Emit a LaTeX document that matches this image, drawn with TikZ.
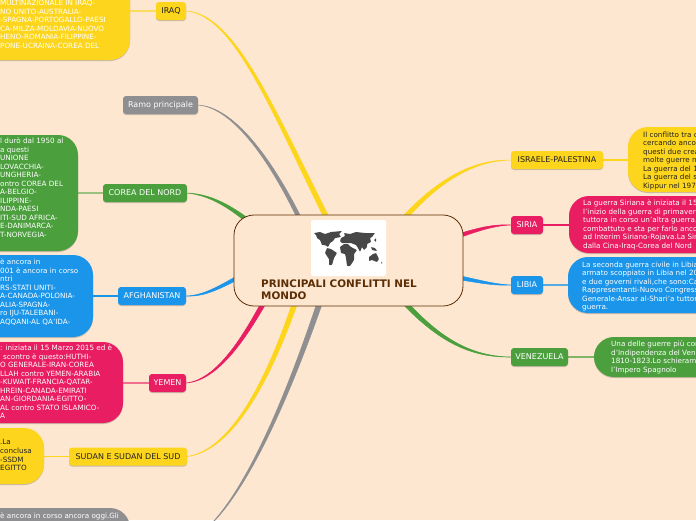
\documentclass[tikz,border=0pt]{standalone}
\usepackage{fontspec}
\setmainfont{DejaVu Sans}
\usetikzlibrary{calc,shadows,backgrounds}
\definecolor{pagebg}{HTML}{FEE7D0}
\definecolor{cy}{HTML}{FDD51C}
\definecolor{cg}{HTML}{4B9F3D}
\definecolor{cb}{HTML}{1B95E9}
\definecolor{cp}{HTML}{E91D62}
\definecolor{cn}{HTML}{8F8F92}
\definecolor{cbrown}{HTML}{5B2E05}
\definecolor{ctext}{HTML}{222222}
\tikzset{
  softshadow/.style={drop shadow={shadow xshift=0pt,shadow yshift=-1pt,opacity=.35,fill=black!60}},
  lab/.style={rectangle,rounded corners=3pt,inner sep=0pt,softshadow,font=\fontsize{8}{9.5}\selectfont},
  boxx/.style={rectangle,rounded corners=20pt,inner sep=0pt,softshadow},
  boxtext/.style={anchor=north west,inner sep=0pt,align=left,font=\fontsize{7.2}{8.55}\selectfont},
  leaf/.style={line width=1.2pt},
}
\newcommand{\branch}[7]{% colour, label anchor, c1, c2, end offset from centre, normal, unused
  \filldraw[#1,line width=.5pt] (#2) .. controls ($(#3)+0.7*(#6)$) and ($(#4)+1.2*(#6)$) .. ($(main.center)+(#5)+1.8*(#6)$)
     -- ($(main.center)+(#5)-1.8*(#6)$) .. controls ($(#4)-1.2*(#6)$) and ($(#3)-0.7*(#6)$) .. (#2) -- cycle;}
\begin{document}
\begin{tikzpicture}[x=1pt,y=-1pt]
\useasboundingbox (0,0) rectangle (696,520);
\begin{pgfonlayer}{background}
\fill[pagebg] (0,0) rectangle (696,520);
\end{pgfonlayer}
\clip (0,0) rectangle (696,520);

% centre
\node[rectangle,rounded corners=20pt,draw=cbrown,line width=.8pt,fill=pagebg,minimum width=229pt,minimum height=91pt,inner sep=0pt] (main) at (348.5,260.5) {};
\node[rectangle,rounded corners=2pt,fill=white,minimum width=75pt,minimum height=56pt,inner sep=0pt] (mapimg) at (348.5,248) {};
\fill[black!72,rounded corners=.6pt]
  (314,233)--(320,232)--(325,234)--(331,232)--(342,231)--(339,234)--(341,237)--(335,238)--(333,241)--(330,243)--(328,247)--(325,245)--(322,245)--(320,240)--(317,238)--(316,235)--cycle
  (327,248)--(331,249)--(337,253)--(334,258)--(332,265)--(329,265)--(329,259)--(325,253)--cycle
  (341,238)--(345,236)--(344,233)--(350,234)--(356,232)--(365,233)--(375,233)--(372,237)--(370,238)--(371,242)--(367,244)--(367,247)--(364,250)--(362,247)--(360,252)--(358,248)--(356,245)--(351,243)--(347,243)--(342,243)--(340,241)--cycle
  (340,247)--(344,244)--(348,244)--(351,247)--(357,250)--(354,254)--(354,260)--(350,266)--(347,266)--(346,258)--(345,254)--(341,253)--cycle
  (369,257)--(373,254)--(376,253)--(379,259)--(377,262)--(372,260)--(369,261)--cycle
  (374,240)--(376,238)--(376,242)--cycle
  (371,247)--(375,248)--(377,251)--(372,250)--cycle
  (381,263)--(382,261)--(382,264)--cycle;
\node[anchor=north west,inner sep=0pt,align=left,text=cbrown,font=\fontsize{10.4}{12}\selectfont\bfseries] (title) at (261,279.5) {PRINCIPALI CONFLITTI NEL\\MONDO};

% labels
\node[lab,fill=cy,text=ctext,minimum width=30pt,minimum height=18pt] (iraq) at (171,11) {IRAQ};
\node[lab,fill=cn,text=white,minimum width=75pt,minimum height=18pt] (ramo) at (160.5,105) {Ramo principale};
\node[lab,fill=cg,text=white,minimum width=84pt,minimum height=18pt] (corea) at (145,193) {COREA DEL NORD};
\node[lab,fill=cb,text=white,minimum width=68pt,minimum height=18pt] (afgh) at (152,296) {AFGHANISTAN};
\node[lab,fill=cp,text=white,minimum width=37pt,minimum height=18pt] (yemen) at (167.5,383) {YEMEN};
\node[lab,fill=cy,text=ctext,minimum width=118pt,minimum height=18pt] (sudan) at (128,456.5) {SUDAN E SUDAN DEL SUD};
\node[lab,fill=cy,text=ctext,minimum width=92pt,minimum height=18pt] (isr) at (557,160) {ISRAELE-PALESTINA};
\node[lab,fill=cp,text=white,minimum width=32pt,minimum height=18pt] (siria) at (527,225) {SIRIA};
\node[lab,fill=cb,text=white,minimum width=32pt,minimum height=18pt] (libia) at (527,285) {LIBIA};
\node[lab,fill=cg,text=white,minimum width=57pt,minimum height=18pt] (venez) at (539.5,357) {VENEZUELA};

% detail boxes
\node[boxx,fill=cy,minimum width=170pt,minimum height=100pt] (biraq) at (45,10) {};
\node[boxx,fill=cg,minimum width=118pt,minimum height=116pt] (bcorea) at (19,193) {};
\node[boxx,fill=cb,minimum width=133pt,minimum height=82pt] (bafgh) at (26.5,296) {};
\node[boxx,fill=cp,minimum width=163pt,minimum height=81pt] (byemen) at (41.5,382.5) {};
\node[boxx,fill=cy,minimum width=84pt,minimum height=56pt] (bsudan) at (2,456) {};
\node[boxx,fill=cn,minimum width=170pt,minimum height=60pt] (bgray) at (45,538) {};
\node[boxx,fill=cy,minimum width=110pt,minimum height=65pt] (bisr) at (683,159.5) {};
\node[boxx,fill=cp,minimum width=170pt,minimum height=57pt] (bsiria) at (654,224.5) {};
\node[boxx,fill=cb,minimum width=170pt,minimum height=56pt] (blibia) at (653,285) {};
\node[boxx,fill=cg,minimum width=140pt,minimum height=40pt] (bvenez) at (664,357) {};

% box texts
\node[boxtext,text=white] (tiraq) at (0,0) {MULTINAZIONALE IN IRAQ-\\NO UNITO-AUSTRALIA-\\-SPAGNA-PORTOGALLO-PAESI\\CA-MILZA-MOLDAVIA-NUOVO\\HENO-ROMANIA-FILIPPINE-\\PONE-UCRAINA-COREA DEL};
\node[boxtext,text=white] (tcorea) at (0,137.5) {l durò dal 1950 al\\a questi\\UNIONE\\LOVACCHIA-\\UNGHERIA-\\ontro COREA DEL\\A-BELGIO-\\ILIPPINE-\\NDA-PAESI\\ITI-SUD AFRICA-\\E-DANIMARCA-\\T-NORVEGIA-};
\node[boxtext,text=white] (tafgh) at (0,258.5) {è ancora in\\001 è ancora in corso\\ntri\\RS-STATI UNITI-\\A-CANADA-POLONIA-\\ALIA-SPAGNA-\\ro IJU-TALEBANI-\\AQQANI-AL QA'IDA-};
\node[boxtext,text=white] (tyemen) at (0,344.5) {: iniziata il 15 Marzo 2015 ed è\\\hspace*{3pt}scontro è questo:HUTHI-\\O GENERALE-IRAN-COREA\\LLAH contro YEMEN-ARABIA\\-KUWAIT-FRANCIA-QATAR-\\HREIN-CANADA-EMIRATI\\AN-GIORDANIA-EGITTO-\\AL contro STATO ISLAMICO-\\A};
\node[boxtext,text=ctext] (tsudan) at (0,439.5) {.La\\conclusa\\-SSDM\\EGITTO};
\node[boxtext,text=white] (tgray) at (0,512.5) {è ancora in corso ancora oggi.Gli};
\node[boxtext,text=ctext] (tisr) at (643,131.5) {Il conflitto tra c\\cercando ancor\\questi due crea\\molte guerre m\\La guerra del 1\\La guerra del s\\Kippur nel 197};
\node[boxtext,text=white] (tsiria) at (583,199.5) {La guerra Siriana è iniziata il 15\\l'inizio della guerra di primavera\\tuttora in corso un'altra guerra.I\\combattuto e sta per farlo ancor\\ad Interim Siriano-Rojava.La Sir\\dalla Cina-Iraq-Corea del Nord};
\node[boxtext,text=white] (tlibia) at (582,261.5) {La seconda guerra civile in Libia\\armato scoppiato in Libia nel 20\\e due governi rivali,che sono:Ca\\Rappresentanti-Nuovo Congress\\Generale-Ansar al-Shari'a tuttora\\guerra.};
\node[boxtext,text=white] (tvenez) at (611,340.5) {Una delle guerre più con\\d'Indipendenza del Vene\\1810-1823.Lo schierame\\l'Impero Spagnolo};

\coordinate (offpage) at (205,530);

\begin{pgfonlayer}{background}
\branch{cy}{iraq.east}{240,15}{280,130}{0,0}{1.5,-.5}{}
\branch{cn}{ramo.east}{240,108}{285,180}{-30,0}{1.2,-.6}{}
\branch{cg}{corea.east}{215,195}{240,212}{-78,-20}{1,-1.2}{}
\branch{cb}{afgh.east}{205,296}{220,288}{-88,4}{.5,1.2}{}
\branch{cp}{yemen.east}{220,380}{250,330}{-73,20}{1.3,.8}{}
\branch{cy}{sudan.east}{235,450}{275,370}{-43,10}{1.5,.6}{}
\branch{cn}{offpage}{250,490}{295,380}{-18,10}{1.5,.6}{}
\branch{cy}{isr.west}{465,160}{425,190}{37,-20}{1.1,1.1}{}
\branch{cp}{siria.west}{490,225}{475,230}{82,-15}{.4,1.4}{}
\branch{cb}{libia.west}{490,285}{475,280}{82,12}{.3,-1.4}{}
\branch{cg}{venez.west}{465,357}{430,335}{37,20}{1.1,-1.1}{}
\draw[leaf,cy!65!pagebg] (biraq.east |- iraq.west) -- (iraq.west);
\draw[leaf,cg!55!pagebg,line width=1.8pt] (bcorea.east |- corea.west) -- (corea.west);
\draw[leaf,cb] (bafgh.east |- afgh.west) -- (afgh.west);
\draw[leaf,cp!60!pagebg,line width=1.8pt] (byemen.east |- yemen.west) -- (yemen.west);
\draw[leaf,cy] (bsudan.east |- sudan.west) -- (sudan.west);
\draw[leaf,cy] (isr.east) -- (bisr.west |- isr.east);
\draw[leaf,cp] (siria.east) -- (bsiria.west |- siria.east);
\draw[leaf,cb!75!pagebg] (libia.east) -- (blibia.west |- libia.east);
\draw[leaf,cg!70!pagebg] (venez.east) -- (bvenez.west |- venez.east);
\end{pgfonlayer}
\end{tikzpicture}
\end{document}
